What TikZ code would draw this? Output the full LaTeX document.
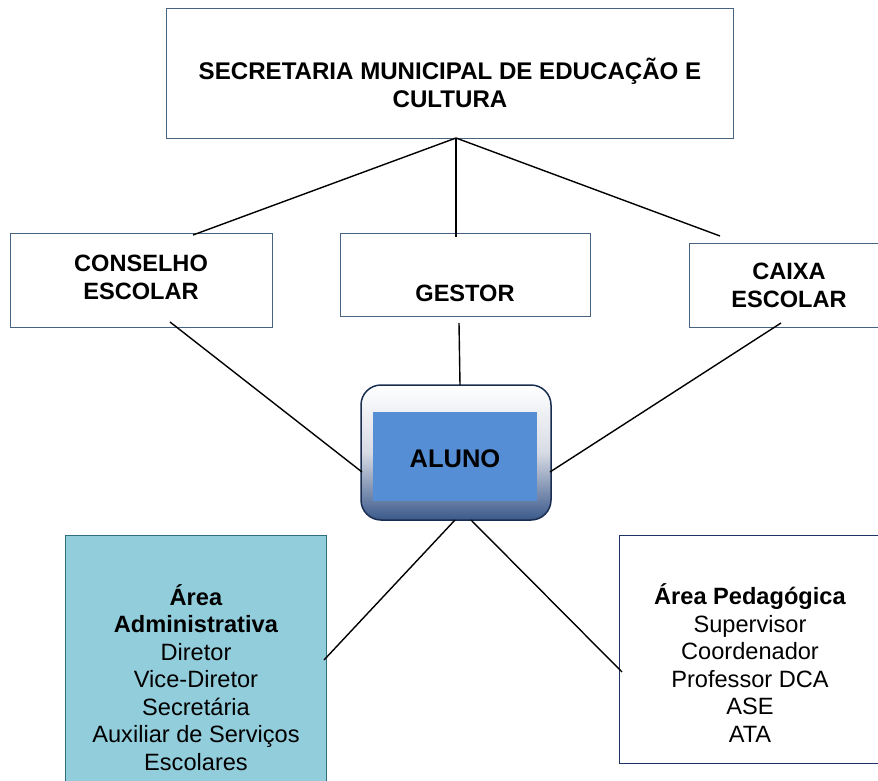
\documentclass[tikz,border=0pt]{standalone}
\usepackage{fontspec}
\setmainfont{Liberation Sans}
\definecolor{boxline}{RGB}{70,100,130}
\definecolor{pedline}{RGB}{30,50,100}
\definecolor{admfill}{RGB}{146,205,220}
\definecolor{admline}{RGB}{49,110,130}
\definecolor{alutop}{RGB}{255,255,255}
\definecolor{alumid}{RGB}{215,219,228}
\definecolor{alubot}{RGB}{58,88,138}
\definecolor{aluline}{RGB}{25,45,80}
\definecolor{aluinner}{RGB}{85,142,213}
\begin{document}
\begin{tikzpicture}[x=1pt,y=-1pt,
  box/.style={draw=boxline, line width=0.9pt, fill=white, inner sep=0pt},
  conn/.style={draw=black, line width=1.4pt},
  txt/.style={font=\fontsize{23.6}{27.5}\selectfont, align=center, inner sep=0pt},
  btxt/.style={font=\fontsize{23.6}{27.5}\selectfont\bfseries, align=center, inner sep=0pt}]
\clip (0,0) rectangle (878,781);
\fill[white] (0,0) rectangle (878,781);
% boxes
\node[box, minimum width=567pt, minimum height=130pt] (sec) at (449.5,73) {};
\node[box, minimum width=262pt, minimum height=94pt] (cons) at (141,280) {};
\node[box, minimum width=250pt, minimum height=83pt] (gest) at (465,274.5) {};
\node[box, minimum width=191pt, minimum height=84pt] (caixa) at (784.5,285) {};
\node[draw=aluline, line width=1.5pt, rounded corners=20pt, top color=alutop, bottom color=alubot, middle color=alumid, minimum width=190pt, minimum height=135pt, inner sep=0pt] (alu) at (456,452.5) {};
\node[fill=aluinner, minimum width=164pt, minimum height=89pt, inner sep=0pt] (aluin) at (455,456.5) {};
\node[draw=admline, line width=0.9pt, fill=admfill, minimum width=261pt, minimum height=265pt, inner sep=0pt] (adm) at (195.5,667.5) {};
\node[box, draw=pedline, minimum width=261pt, minimum height=228pt] (ped) at (749.5,649) {};
% texts
\node[font=\fontsize{24.1}{28}\selectfont\bfseries, align=center, inner sep=0pt] (secT) at (450,82.5) {SECRETARIA MUNICIPAL DE EDUCAÇÃO E\\CULTURA};
\node[btxt] (consT) at (141,277.5) {CONSELHO\\ESCOLAR};
\node[btxt] (gestT) at (465,293) {GESTOR};
\node[btxt] (caixaT) at (789,285.5) {CAIXA\\ESCOLAR};
\node[font=\fontsize{25.5}{28}\selectfont\bfseries, inner sep=0pt] (aluT) at (455,459) {ALUNO};
\node[txt] (admT) at (196,677.5) {\textbf{Área}\\\textbf{Administrativa}\\Diretor\\Vice-Diretor\\Secretária\\Auxiliar de Serviços\\Escolares};
\node[txt] (pedT) at (750,663) {\textbf{Área Pedagógica}\\Supervisor\\Coordenador\\Professor DCA\\ASE\\ATA};
% connector end points
\coordinate (apex) at (456,138);
\coordinate (consTop) at (193,235);
\coordinate (gestTop) at (456,237);
\coordinate (caixaTop) at (720,236);
\coordinate (consBot) at (170,322);
\coordinate (gestBot) at (459,323);
\coordinate (caixaBot) at (781,323);
\coordinate (aluL) at (362,472);
\coordinate (aluT1) at (460,385);
\coordinate (aluR) at (550,472);
\coordinate (aluB1) at (455,520);
\coordinate (aluB2) at (471,520);
\coordinate (admR) at (324,660);
\coordinate (pedL) at (622,672);
% connectors
\draw[conn] (apex) -- (consTop);
\draw[conn] (apex) -- (gestTop);
\draw[conn] (apex) -- (caixaTop);
\draw[conn] (consBot) -- (aluL);
\draw[conn] (gestBot) -- (aluT1);
\draw[conn] (caixaBot) -- (aluR);
\draw[conn] (aluB1) -- (admR);
\draw[conn] (aluB2) -- (pedL);
\end{tikzpicture}
\end{document}
